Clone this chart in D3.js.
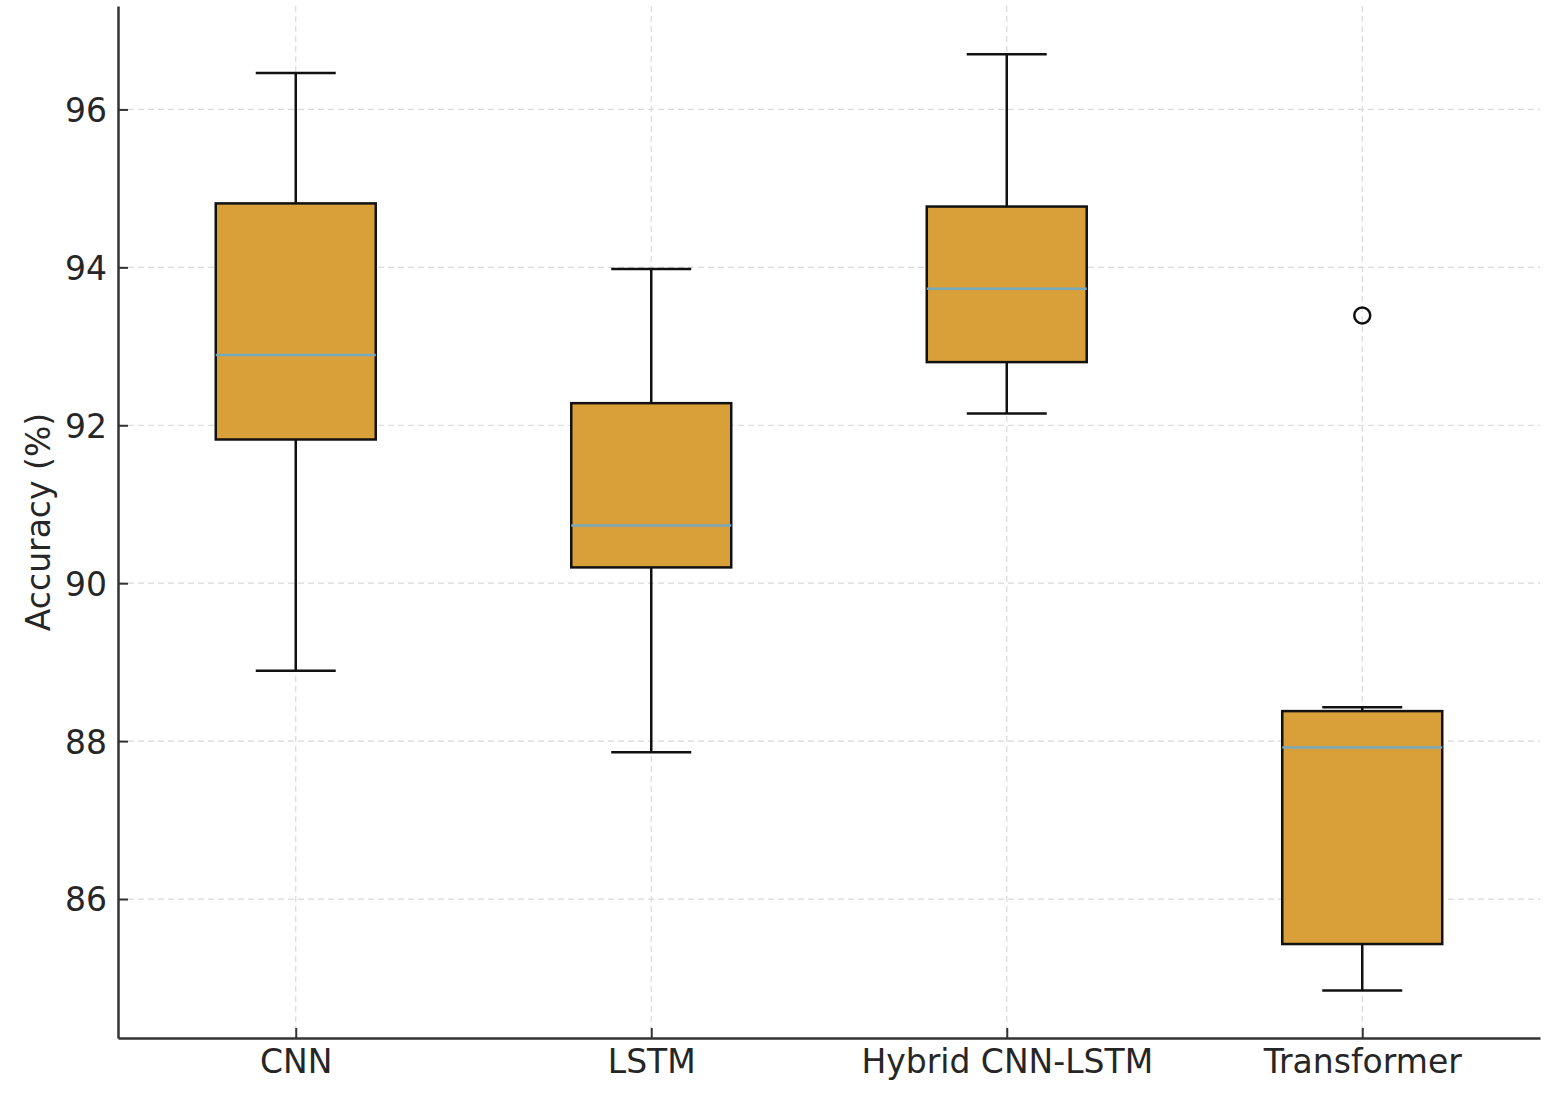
<!DOCTYPE html>
<html>
<head>
<meta charset="utf-8">
<script src="https://cdn.jsdelivr.net/npm/d3@7"></script>
<style>
	html, body { margin: 0; padding: 0; background: #fff; }
	svg text { font-family: "DejaVu Sans", sans-serif; fill: #262626; }
</style>
</head>
<body>
<div id="chart"></div>
<script>

// DATA
var models = ["CNN", "LSTM", "Hybrid CNN-LSTM", "Transformer"];
var whiskerLow  = [88.89, 87.86, 92.15, 84.84];
var q1          = [91.82, 90.20, 92.80, 85.43];
var median      = [92.89, 90.73, 93.73, 87.92];
var q3          = [94.81, 92.28, 94.77, 88.38];
var whiskerHigh = [96.46, 93.98, 96.70, 88.43];
var outliers    = [[], [], [], [93.39]];
var yTicks = [86, 88, 90, 92, 94, 96];

var WIDTH = 1564, HEIGHT = 1106;
var LEFT = 118, RIGHT = 1540, TOP = 6, BOTTOM = 1038;
var BOX_WIDTH = 0.45;
var FILL = "#d9a03a", MEDIAN = "#77a9bd";
var FONT = "33px";

var svg = d3.select("#chart").append("svg")
	.attr("width", WIDTH)
	.attr("height", HEIGHT);

var x = d3.scaleLinear().domain([0.5, 4.5]).range([LEFT, RIGHT]);
var y = d3.scaleLinear().domain([84.24, 97.31]).range([BOTTOM, TOP]);

//GRID
var grid = svg.append("g").attr("class", "grid");
grid.selectAll("line.gy").data(yTicks).enter().append("line")
	.attr("x1", LEFT).attr("x2", RIGHT)
	.attr("y1", function(d){ return y(d); })
	.attr("y2", function(d){ return y(d); });
grid.selectAll("line.gx").data(models).enter().append("line")
	.attr("x1", function(d, i){ return x(i + 1); })
	.attr("x2", function(d, i){ return x(i + 1); })
	.attr("y1", TOP).attr("y2", BOTTOM);
grid.selectAll("line")
	.attr("stroke", "#d9d9d9")
	.attr("stroke-width", 1.2)
	.attr("stroke-dasharray", "6,4");

//BOXES
var box = svg.append("g").selectAll("g").data(models).enter().append("g");

function cx(i){ return x(i + 1); }
function half(i, f){ return x(i + 1 + BOX_WIDTH * f) - x(i + 1); }

// whiskers
box.append("line")
	.attr("x1", function(d, i){ return cx(i); })
	.attr("x2", function(d, i){ return cx(i); })
	.attr("y1", function(d, i){ return y(q1[i]); })
	.attr("y2", function(d, i){ return y(whiskerLow[i]); });
box.append("line")
	.attr("x1", function(d, i){ return cx(i); })
	.attr("x2", function(d, i){ return cx(i); })
	.attr("y1", function(d, i){ return y(q3[i]); })
	.attr("y2", function(d, i){ return y(whiskerHigh[i]); });
// caps
[whiskerLow, whiskerHigh].forEach(function(arr){
	box.append("line")
		.attr("x1", function(d, i){ return cx(i) - half(i, 0.25); })
		.attr("x2", function(d, i){ return cx(i) + half(i, 0.25); })
		.attr("y1", function(d, i){ return y(arr[i]); })
		.attr("y2", function(d, i){ return y(arr[i]); });
});
box.selectAll("line").attr("stroke", "#111").attr("stroke-width", 2.5);

box.append("rect")
	.attr("x", function(d, i){ return cx(i) - half(i, 0.5); })
	.attr("width", function(d, i){ return 2 * half(i, 0.5); })
	.attr("y", function(d, i){ return y(q3[i]); })
	.attr("height", function(d, i){ return y(q1[i]) - y(q3[i]); })
	.attr("fill", FILL)
	.attr("stroke", "#111")
	.attr("stroke-width", 2.5);

box.append("line")
	.attr("x1", function(d, i){ return cx(i) - half(i, 0.5); })
	.attr("x2", function(d, i){ return cx(i) + half(i, 0.5); })
	.attr("y1", function(d, i){ return y(median[i]); })
	.attr("y2", function(d, i){ return y(median[i]); })
	.attr("stroke", MEDIAN)
	.attr("stroke-width", 2.5);

box.each(function(d, i){
	d3.select(this).selectAll("circle").data(outliers[i]).enter().append("circle")
		.attr("cx", cx(i))
		.attr("cy", function(v){ return y(v); })
		.attr("r", 8)
		.attr("fill", "none")
		.attr("stroke", "#111")
		.attr("stroke-width", 2.5);
});

//AXES (ticks pointing inward)
var yAxis = svg.append("g")
	.attr("transform", "translate(" + LEFT + ",0)")
	.call(d3.axisLeft(y).tickValues(yTicks).tickSize(-10).tickPadding(11).tickSizeOuter(0));
var xAxis = svg.append("g")
	.attr("transform", "translate(0," + BOTTOM + ")")
	.call(d3.axisBottom(x).tickValues([1, 2, 3, 4]).tickFormat(function(d){ return models[d - 1]; })
		.tickSize(-10).tickPadding(10).tickSizeOuter(0));

[xAxis, yAxis].forEach(function(a){
	a.select(".domain").attr("stroke", "#333").attr("stroke-width", 2.5);
	a.selectAll(".tick line").attr("stroke", "#333").attr("stroke-width", 2);
	a.selectAll(".tick text")
		.attr("fill", "#262626")
		.style("font-size", FONT)
		.style("font-family", "DejaVu Sans");
});
yAxis.selectAll(".tick text").attr("dy", "0.36em");
xAxis.selectAll(".tick text").attr("dy", "0.76em");

svg.append("text")
	.attr("transform", "translate(50,522) rotate(-90)")
	.attr("text-anchor", "middle")
	.style("font-size", FONT)
	.text("Accuracy (%)");

</script>
</body>
</html>
